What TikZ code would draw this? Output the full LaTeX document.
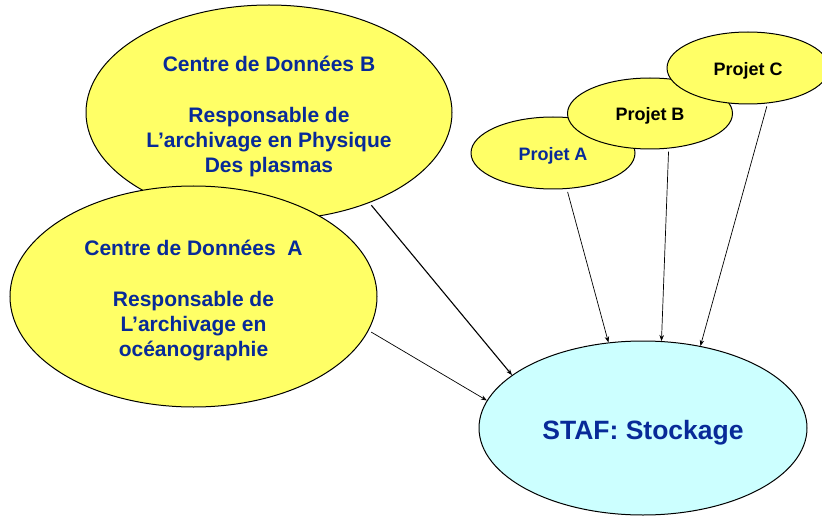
\documentclass[tikz,border=0pt]{standalone}
\usepackage{fontspec}
\setmainfont{Liberation Sans}
\usetikzlibrary{shapes.geometric,arrows.meta}
\definecolor{ylw}{RGB}{255,255,102}
\definecolor{cyn}{RGB}{204,255,255}
\definecolor{txtblue}{RGB}{8,42,152}
\newcommand{\lift}[1]{\rule{0pt}{#1}}
\tikzset{
  bubble/.style={ellipse, draw=black, line width=1pt, fill=ylw, inner sep=0pt, align=center, font=\bfseries},
  bigtext/.style={font=\fontsize{21}{25.3}\selectfont\bfseries, text=txtblue},
  projtext/.style={font=\fontsize{18}{21}\selectfont\bfseries},
  link/.style={draw=black, line width=0.9pt, -{Stealth[length=6pt,width=4.5pt]}, shorten <=3pt}
}
\begin{document}
\begin{tikzpicture}[x=1pt,y=1pt]
\path[use as bounding box] (0,0) rectangle (822,515);
% large data centres
\node[bubble, bigtext, minimum width=366pt, minimum height=215pt] (B) at (269,402.5)
  {\lift{24pt}Centre de Données B\\[25.3pt]Responsable de\\L’archivage en Physique\\Des plasmas};
\node[bubble, bigtext, minimum width=367pt, minimum height=221pt] (A) at (193.5,218.5)
  {\lift{24pt}Centre de Données~~A\\[25.3pt]Responsable de\\L’archivage en\\océanographie};
% projects
\node[bubble, projtext, text=txtblue, minimum width=164pt, minimum height=72pt] (PA) at (553,362) {\lift{18pt}Projet A};
\node[bubble, projtext, text=black, minimum width=165pt, minimum height=71pt] (PB) at (650,401.5) {\lift{18pt}Projet B};
\node[bubble, projtext, text=black, minimum width=162pt, minimum height=72pt] (PC) at (748,447) {\lift{18pt}Projet C};
% storage
\node[ellipse, draw=black, line width=1pt, fill=cyn, inner sep=0pt, minimum width=328pt, minimum height=174pt,
  font=\fontsize{26.5}{30}\selectfont\bfseries, text=txtblue] (S) at (643,87) {\lift{29.5pt}STAF: Stockage};
% connectors
\draw[link, line width=1.1pt] (B.-42.6) -- (S.158.7);
\draw[link, line width=0.7pt] (A.-11.4) -- (S.170);
\draw[link, line width=0.7pt] (PA.-69.4) -- (S.112.5);
\draw[link, line width=0.7pt] (PB.-62.5) -- (S.78.8);
\draw[link, line width=0.7pt] (PC.-61.1) -- (S.55.4);
\end{tikzpicture}
\end{document}
